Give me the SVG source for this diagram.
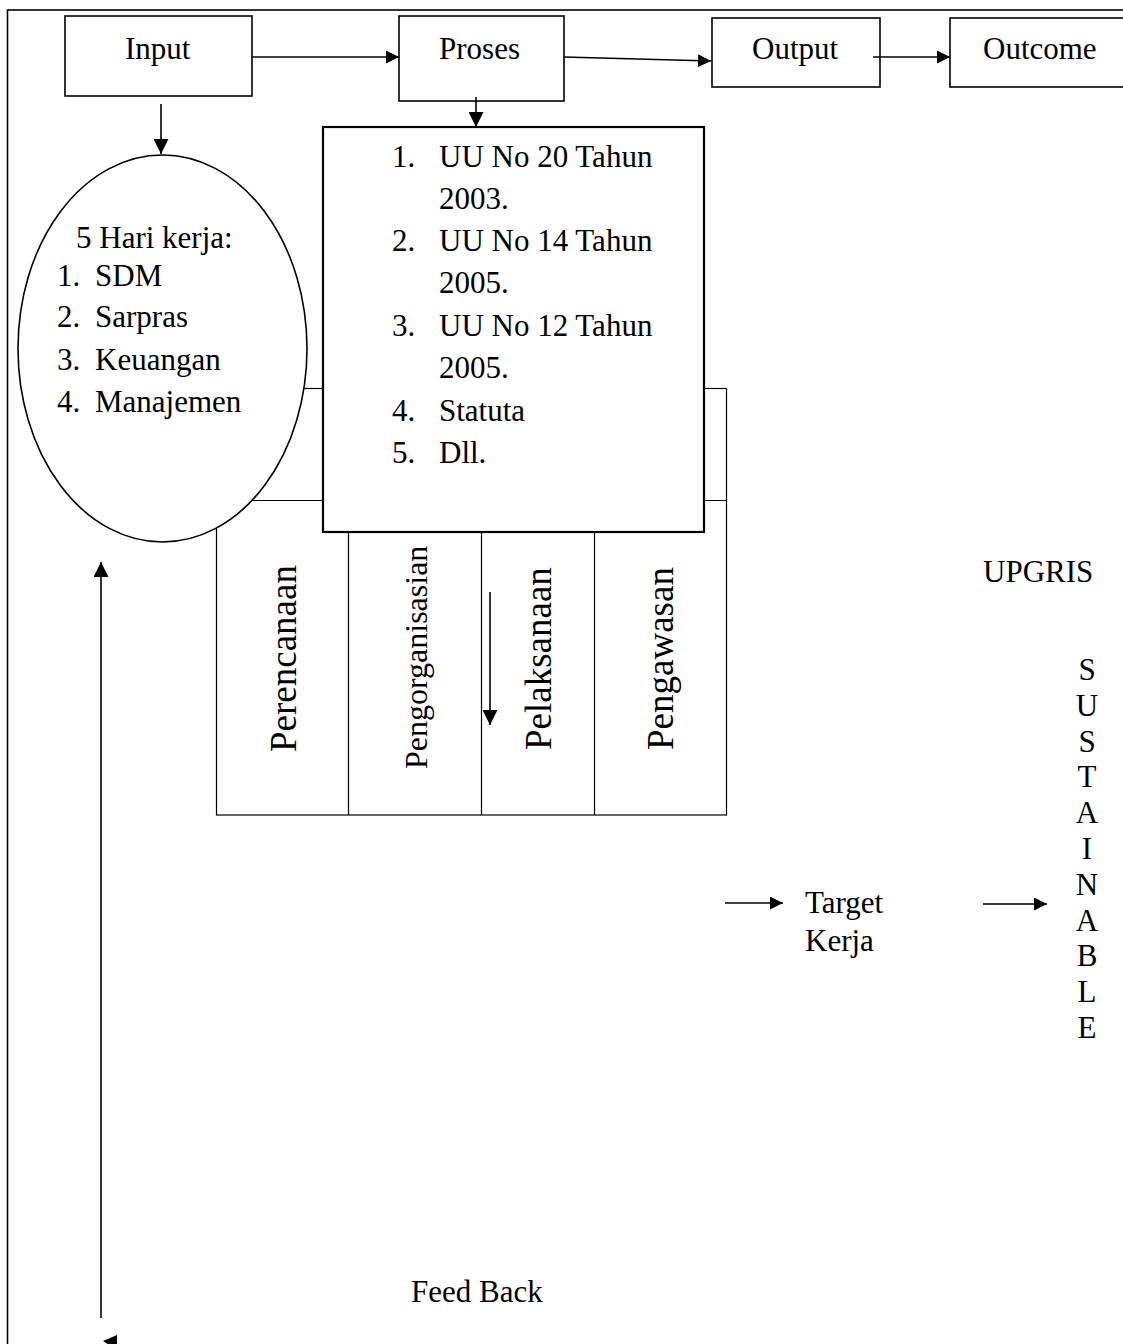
<svg xmlns="http://www.w3.org/2000/svg" width="1123" height="1344" viewBox="0 0 1123 1344">
<style>
text{font-family:"Liberation Serif","Times New Roman",serif;fill:#000;font-size:31px}
.box{fill:#fff;stroke:#000;stroke-width:1.6}
.thin{fill:none;stroke:#000;stroke-width:1.2}
.con{fill:none;stroke:#000;stroke-width:1.6}
.big{font-size:37px}
.mid{font-size:32px}
</style>
<defs>
<marker id="ah" viewBox="0 0 10 10" refX="10" refY="5" markerWidth="15" markerHeight="15" orient="auto" markerUnits="userSpaceOnUse"><path d="M0,0 L10,5 L0,10 z" fill="#000"/></marker>
<marker id="ahs" viewBox="0 0 10 10" refX="10" refY="5" markerWidth="13" markerHeight="13" orient="auto" markerUnits="userSpaceOnUse"><path d="M0,0 L10,5 L0,10 z" fill="#000"/></marker>
</defs>
<rect width="1123" height="1344" fill="#fff"/>
<rect id="frame" x="7.5" y="10" width="1200" height="1400" fill="none" stroke="#000" stroke-width="1.6"/>

<g id="table">
<rect class="thin" x="216.5" y="388.5" width="510" height="426.5"/>
<line class="thin" x1="216.5" y1="500.5" x2="726.5" y2="500.5"/>
<line class="thin" x1="348.5" y1="500.5" x2="348.5" y2="815"/>
<line class="thin" x1="481.5" y1="500.5" x2="481.5" y2="815"/>
<line class="thin" x1="594.5" y1="500.5" x2="594.5" y2="815"/>
<text class="big" transform="translate(296,752) rotate(-90)">Perencanaan</text>
<text class="mid" transform="translate(427,769) rotate(-90)">Pengorganisasian</text>
<text class="big" transform="translate(551,750) rotate(-90)">Pelaksanaan</text>
<text class="big" transform="translate(673,750) rotate(-90)">Pengawasan</text>
</g>

<g id="input">
<rect class="box" x="65" y="16" width="187" height="80"/>
<text x="125" y="59">Input</text>
</g>
<g id="proses">
<rect class="box" x="399" y="16" width="165" height="85"/>
<text x="439" y="59">Proses</text>
</g>
<g id="output">
<rect class="box" x="712" y="18" width="168" height="69"/>
<text x="752" y="59">Output</text>
</g>
<g id="outcome">
<rect class="box" x="950" y="18" width="200" height="69"/>
<text x="983" y="59">Outcome</text>
</g>

<g id="hari-kerja">
<ellipse class="box" cx="162.5" cy="348.5" rx="144.5" ry="193.5"/>
<text x="76" y="248">5 Hari kerja:</text>
<text x="57" y="286">1.</text><text x="95" y="286">SDM</text>
<text x="57" y="327">2.</text><text x="95" y="327">Sarpras</text>
<text x="57" y="370">3.</text><text x="95" y="370">Keuangan</text>
<text x="57" y="412">4.</text><text x="95" y="412">Manajemen</text>
</g>

<g id="dasar-hukum">
<rect x="323" y="127" width="381" height="405" fill="#fff" stroke="#000" stroke-width="2.2"/>
<text x="392" y="167">1.</text><text x="439" y="167">UU No 20 Tahun</text>
<text x="439" y="209">2003.</text>
<text x="392" y="251">2.</text><text x="439" y="251">UU No 14 Tahun</text>
<text x="439" y="293">2005.</text>
<text x="392" y="336">3.</text><text x="439" y="336">UU No 12 Tahun</text>
<text x="439" y="378">2005.</text>
<text x="392" y="421">4.</text><text x="439" y="421">Statuta</text>
<text x="392" y="463">5.</text><text x="439" y="463">Dll.</text>
</g>

<g id="upgris"><text x="983" y="582">UPGRIS</text></g>
<g id="sustainable" text-anchor="middle">
<text x="1087" y="680">S</text>
<text x="1087" y="716">U</text>
<text x="1087" y="752">S</text>
<text x="1087" y="787">T</text>
<text x="1087" y="823">A</text>
<text x="1087" y="859">I</text>
<text x="1087" y="895">N</text>
<text x="1087" y="931">A</text>
<text x="1087" y="966">B</text>
<text x="1087" y="1002">L</text>
<text x="1087" y="1038">E</text>
</g>
<g id="target-kerja">
<text x="805" y="913">Target</text>
<text x="805" y="951">Kerja</text>
</g>
<g id="feed-back"><text x="411" y="1302">Feed Back</text></g>

<g id="connectors">
<path class="con" d="M252,57 L399,57" marker-end="url(#ahs)"/>
<path class="con" d="M564,57 L711,61" marker-end="url(#ahs)"/>
<path class="con" d="M873,57 L950,57" marker-end="url(#ahs)"/>
<path class="con" d="M161,104 L161,154" marker-end="url(#ah)"/>
<path class="con" d="M476,97 L476,127" marker-end="url(#ah)"/>
<path class="con" d="M490,592 L490,725" marker-end="url(#ah)"/>
<path class="con" d="M101,1318 L101,562" marker-end="url(#ah)"/>
<path class="con" d="M725,903 L783,903" marker-end="url(#ahs)"/>
<path class="con" d="M983,904 L1047,904" marker-end="url(#ahs)"/>
<polygon points="103,1341 117,1335 117,1350" fill="#000"/>
</g>
</svg>
